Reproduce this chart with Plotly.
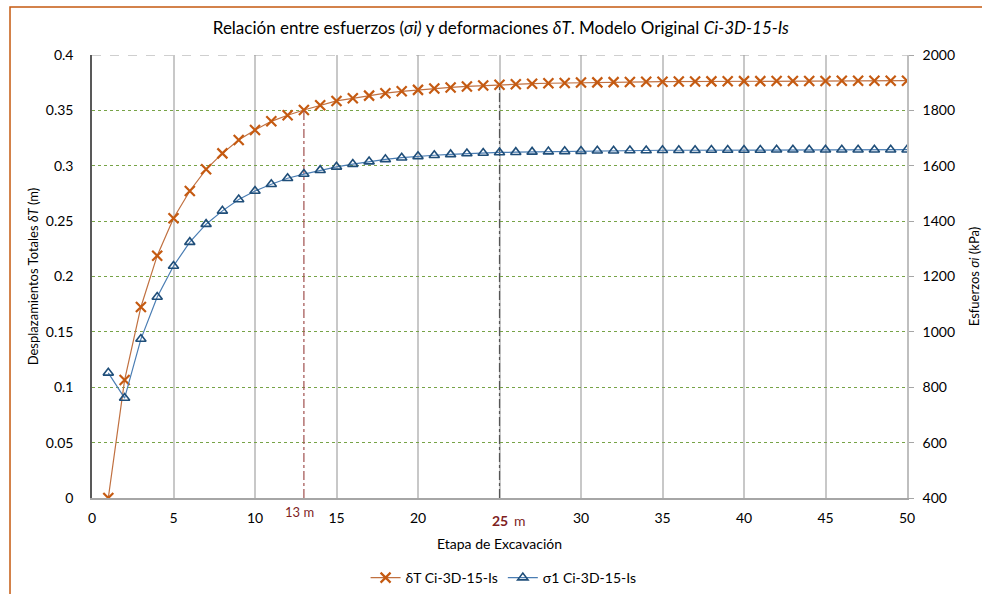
import plotly.graph_objects as go

etapas = list(range(1, 51))
delta_t = [0.0, 0.1065, 0.1725, 0.2188, 0.2526, 0.2772, 0.2968, 0.3112, 0.3233, 0.3323,
           0.3401, 0.3456, 0.3503, 0.3546, 0.3585, 0.3609, 0.3633, 0.3655, 0.3672, 0.3685,
           0.3697, 0.3707, 0.3716, 0.3724, 0.3731, 0.3736, 0.3741, 0.3745, 0.3748, 0.3751,
           0.3753, 0.3755, 0.3757, 0.3758, 0.3759, 0.3760, 0.3761, 0.3762, 0.3763, 0.3764,
           0.3764, 0.3765, 0.3765, 0.3766, 0.3766, 0.3767, 0.3767, 0.3767, 0.3768, 0.3768]
sigma1 = [852, 761, 974, 1126, 1238, 1324, 1389, 1437, 1478, 1509,
          1533, 1555, 1570, 1584, 1596, 1606, 1615, 1623, 1629, 1634,
          1638, 1641, 1644, 1646, 1648, 1649, 1650, 1651, 1652, 1653,
          1654, 1654, 1655, 1655, 1656, 1656, 1656, 1657, 1657, 1657,
          1657, 1658, 1658, 1658, 1658, 1658, 1658, 1658, 1658, 1658]
ref_etapas = [13, 25]
x_ticks = [0, 5, 10, 15, 20, 25, 30, 35, 40, 45, 50]
x_ticklabels = ["0", "5", "10", "15", "20", "", "30", "35", "40", "45", "50"]

FONT = "Lato, Calibri, sans-serif"
ORANGE = "#C55A11"
BLUE = "#1F4E79"
DARKRED = "#7F1F1F"

fig = go.Figure()

fig.add_trace(go.Scatter(
    x=etapas, y=delta_t, mode="lines+markers", name="δT Ci-3D-15-Is",
    line=dict(color="#C07040", width=1.2),
    marker=dict(symbol="x-thin-open", size=10, color=ORANGE, line=dict(color=ORANGE, width=2.2)),
    yaxis="y"))
fig.add_trace(go.Scatter(
    x=etapas, y=sigma1, mode="lines+markers", name="σ1 Ci-3D-15-Is",
    line=dict(color="#4A7DB3", width=1.2),
    marker=dict(symbol="triangle-up-open", size=9, color=BLUE, line=dict(color=BLUE, width=1.6)),
    yaxis="y2"))

# reference vertical lines
ref_colors = ["#A0504F", "#555555"]
for e, c in zip(ref_etapas, ref_colors):
    fig.add_trace(go.Scatter(
        x=[e, e], y=[0, delta_t[e - 1]], mode="lines", showlegend=False,
        line=dict(color=c, width=1.2, dash="dashdot"), hoverinfo="skip", yaxis="y"))

fig.update_layout(
    width=982, height=594,
    margin=dict(l=92, r=75, t=55, b=96, autoexpand=False),
    paper_bgcolor="white", plot_bgcolor="white",
    font=dict(family=FONT, size=14, color="#000000"),
    title=dict(text="Relación entre esfuerzos (<i>σi)</i> y deformaciones <i>δT</i>. Modelo Original <i>Ci-3D-15-Is</i>",
               x=0.51, xanchor="center", y=1 - 28 / 594, yanchor="middle",
               font=dict(family=FONT, size=17)),
    xaxis=dict(range=[0, 50], tickvals=x_ticks, ticktext=x_ticklabels,
               showgrid=True, gridcolor="#C8C8C8", gridwidth=1.5,
               showline=True, linecolor="#A6A6A6", linewidth=1.5,
               ticks="", zeroline=False, automargin=False, ticklabelstandoff=6,
               title=dict(text="Etapa de Excavación", font=dict(size=14), standoff=15)),
    yaxis=dict(range=[0, 0.4], dtick=0.05, tickformat="~g",
               showgrid=True, griddash="dot", gridcolor="#77A347", gridwidth=1,
               showline=True, linecolor="#595959", linewidth=1.5, zeroline=False,
               ticks="", automargin=False, ticklabelstandoff=14,
               title=dict(text="Desplazamientos Totales <i>δT</i> (m)", font=dict(size=13), standoff=4)),
    yaxis2=dict(range=[400, 2000], dtick=200, overlaying="y", side="right",
                showgrid=False, showline=True, linecolor="#BFBFBF", linewidth=1.5,
                ticks="outside", ticklen=5, tickcolor="#A6A6A6", zeroline=False,
                automargin=False, ticklabelstandoff=6,
                title=dict(text="Esfuerzos <i>σi</i> (kPa)", font=dict(size=13), standoff=17)),
    legend=dict(orientation="h", x=0.505, xanchor="center", yref="container",
                y=1 - 578 / 594, yanchor="middle",
                font=dict(size=14), traceorder="normal"),
    showlegend=True,
)

# top boundary dashed gray line at 0.4
fig.add_shape(type="line", xref="paper", yref="y", x0=0, x1=1, y0=0.4, y1=0.4,
              line=dict(color="#A0A0A0", width=1, dash="dash"))

# labels for reference lines
fig.add_annotation(x=12.75, y=0, yref="y", yshift=-14, text="13 m", showarrow=False,
                   font=dict(color=DARKRED, size=13, family=FONT))
fig.add_annotation(x=25, y=0, yref="y", yshift=-22, text="<b>25</b>", showarrow=False,
                   font=dict(color=DARKRED, size=14, family=FONT))
fig.add_annotation(x=25.75, y=0, yref="y", yshift=-22, text="m", showarrow=False, xanchor="left",
                   font=dict(color=DARKRED, size=14, family=FONT))

# outer orange frame
fig.add_shape(type="rect", xref="paper", yref="paper", x0=-0.1006, x1=1.3, y0=-0.4, y1=1.1084,
              line=dict(color="#C55A11", width=1.5), layer="below")

fig.write_html("out.html", config={"displayModeBar": False},
               post_script="document.body.style.margin='0';document.body.style.overflow='hidden';")
